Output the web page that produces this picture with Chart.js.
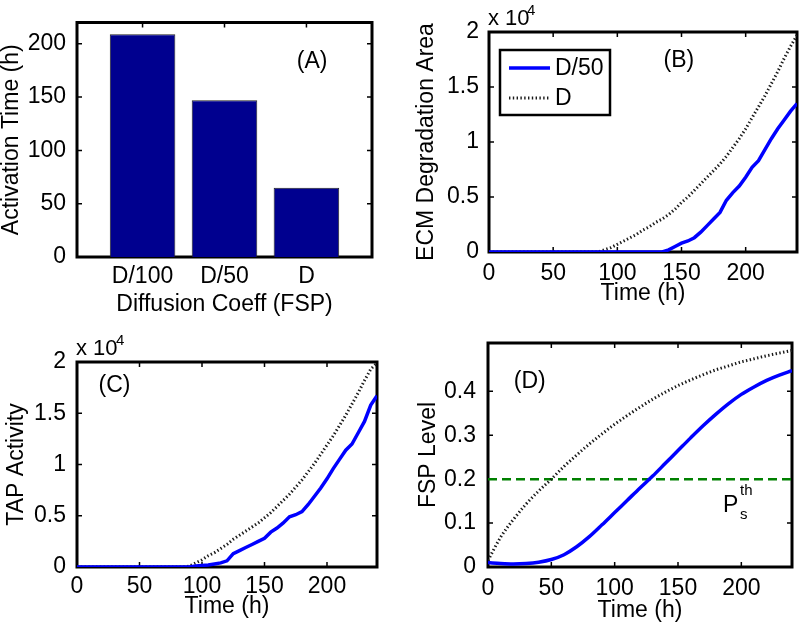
<!DOCTYPE html>
<html>
<head>
<meta charset="utf-8">
<script src="https://cdn.jsdelivr.net/npm/chart.js@4.4.0/dist/chart.umd.min.js"></script>
<style>
    body { margin: 0; background: #fff; }
    #wrap { position: relative; width: 800px; height: 622px; }
    #wrap canvas { position: absolute; left: 0; top: 0; }
</style>
</head>
<body>
<div id="wrap">
    <canvas id="panelA" width="800" height="622"></canvas>
    <canvas id="panelB" width="800" height="622"></canvas>
    <canvas id="panelC" width="800" height="622"></canvas>
    <canvas id="panelD" width="800" height="622"></canvas>
</div>
<script>
// --- DATOS ---
const coeffLabels = ['D/100', 'D/50', 'D'];
const activationHours = [209, 147, 65];
const activationTicks = [0, 50, 100, 150, 200];

const timeTicks = [0, 50, 100, 150, 200];
const areaTicks = [0, 5000, 10000, 15000, 20000];
const fspTicks = [0, 0.1, 0.2, 0.3, 0.4];

// time grid (h) for panels B and C
const timeFine = [0, 5, 10, 15, 20, 25, 30, 35, 40, 45, 50, 55, 60, 65, 70, 75, 80, 85, 90, 95,
    100, 105, 110, 115, 120, 125, 130, 135, 140, 145, 150, 155, 160, 165, 170, 175, 180, 185, 190, 195,
    200, 205, 210, 215, 220, 225, 230, 235, 240];

// (B) ECM degradation area
const ecmD50 = [0, 0, 0, 0, 0, 0, 0, 0, 0, 0, 0, 0, 0, 0, 0, 0, 0, 0, 0, 0,
    0, 0, 0, 0, 0, 0, 0, 0, 200, 500, 800, 1000, 1300, 1800, 2400, 3000, 3600, 4700, 5400, 6000,
    6800, 7700, 8300, 9300, 10300, 11200, 12000, 12800, 13500];
const ecmD = [0, 0, 0, 0, 0, 0, 0, 0, 0, 0, 0, 0, 0, 0, 0, 0, 0, 0, 200, 400,
    700, 1000, 1300, 1600, 2000, 2300, 2700, 3000, 3400, 3900, 4500, 5000, 5600, 6200, 6800, 7400, 8000, 8700, 9500, 10300,
    11200, 12200, 13200, 14200, 15300, 16400, 17600, 18700, 19700];

// (C) TAP activity
const tapD50 = [0, 0, 0, 0, 0, 0, 0, 0, 0, 0, 0, 0, 0, 0, 0, 0, 0, 0, 0, 100,
    150, 200, 300, 400, 600, 1300, 1600, 1900, 2200, 2500, 2800, 3400, 3800, 4300, 4900, 5100, 5400, 6100, 6900, 7700,
    8600, 9600, 10500, 11400, 12000, 13100, 14200, 15800, 16700];
const tapD = [0, 0, 0, 0, 0, 0, 0, 0, 0, 0, 0, 0, 0, 0, 0, 0, 0, 0, 100, 400,
    700, 1100, 1400, 1800, 2200, 2700, 3100, 3500, 3900, 4300, 4800, 5300, 5900, 6500, 7100, 7800, 8500, 9300, 10100, 11000,
    11900, 12800, 13800, 14800, 15900, 17000, 18200, 19300, 19900];

// (D) FSP level
const timeCoarse = [0, 10, 20, 30, 40, 50, 60, 70, 80, 90, 100, 110, 120, 130, 140, 150, 160, 170, 180, 190,
    200, 210, 220, 230, 240];
const fspD50 = [0.010, 0.008, 0.007, 0.008, 0.011, 0.017, 0.028, 0.046, 0.069, 0.096, 0.124, 0.152, 0.180, 0.207, 0.236,
    0.265, 0.294, 0.322, 0.348, 0.372, 0.393, 0.410, 0.425, 0.437, 0.447];
const fspD = [0.015, 0.068, 0.108, 0.143, 0.173, 0.200, 0.229, 0.255, 0.280, 0.303, 0.325, 0.345, 0.364, 0.382, 0.398,
    0.413, 0.426, 0.438, 0.449, 0.458, 0.467, 0.474, 0.481, 0.487, 0.493];
const fspThreshold = 0.2;

// --- ESTILO ---
const PAGE_W = 800, PAGE_H = 622;
const FONT = '"Liberation Sans", Arial, Helvetica, sans-serif';
const FONT_SIZE = 23;
const TICK_LEN = 5;
Chart.defaults.font.family = FONT;
Chart.defaults.font.size = FONT_SIZE;
Chart.defaults.color = '#000';

const blueLine = { borderColor: '#0000ff', borderWidth: 3.5, pointRadius: 0, tension: 0, fill: false };
const dottedLine = { borderColor: '#1a1a1a', borderWidth: 3, borderDash: [1.4, 2.4], borderCapStyle: 'butt', pointRadius: 0, tension: 0, fill: false };

function toPoints(xs, ys) {
    return xs.map((x, i) => ({ x: x, y: ys[i] }));
}

// caja negra y marcas hacia dentro, estilo MATLAB
const framePlugin = {
    id: 'frame',
    beforeDatasetsDraw(chart) {
        const { ctx, chartArea: a, scales: { x, y } } = chart;
        ctx.save();
        ctx.strokeStyle = '#000';
        ctx.lineWidth = 1.5;
        ctx.beginPath();
        x.ticks.forEach(t => {
            const px = x.getPixelForValue(t.value);
            ctx.moveTo(px, a.bottom); ctx.lineTo(px, a.bottom - TICK_LEN);
            ctx.moveTo(px, a.top); ctx.lineTo(px, a.top + TICK_LEN);
        });
        y.ticks.forEach(t => {
            const py = y.getPixelForValue(t.value);
            ctx.moveTo(a.left, py); ctx.lineTo(a.left + TICK_LEN, py);
            ctx.moveTo(a.right, py); ctx.lineTo(a.right - TICK_LEN, py);
        });
        ctx.stroke();
        ctx.lineWidth = 3;
        ctx.strokeRect(a.left, a.top, a.right - a.left, a.bottom - a.top);
        ctx.restore();
    }
};

function textPlugin(draw) {
    return {
        id: 'notes',
        afterDraw(chart) {
            const ctx = chart.ctx;
            ctx.save();
            ctx.fillStyle = '#000';
            draw(ctx, chart);
            ctx.restore();
        }
    };
}

function drawTimes10(ctx, a, dx) {
    ctx.textAlign = 'left';
    ctx.textBaseline = 'alphabetic';
    ctx.font = '22px ' + FONT;
    ctx.fillText('x 10', a.left - 1, a.top - 7);
    ctx.font = '15px ' + FONT;
    ctx.fillText('4', a.left + dx, a.top - 17);
}

function panelLabel(ctx, chart, text, xv, yv) {
    const { x, y } = chart.scales;
    ctx.font = FONT_SIZE + 'px ' + FONT;
    ctx.textAlign = 'center';
    ctx.textBaseline = 'middle';
    ctx.fillText(text, x.getPixelForValue(xv), y.getPixelForValue(yv));
}

function panelOptions(box, cfg) {
    return {
        responsive: false,
        animation: false,
        layout: {
            padding: {
                left: cfg.padLeft,
                top: box.top,
                right: PAGE_W - box.right,
                bottom: PAGE_H - box.bottom - cfg.xAxisHeight
            }
        },
        plugins: { legend: { display: false }, tooltip: { enabled: false } },
        scales: {
            x: {
                type: 'linear', min: cfg.xMin, max: cfg.xMax, offset: false,
                grid: { display: false, drawTicks: false, offset: false },
                border: { display: false },
                afterBuildTicks: s => { s.ticks = cfg.xTicks.map(v => ({ value: v })); },
                afterFit: s => { s.height = cfg.xAxisHeight; },
                ticks: {
                    padding: cfg.xTickPad, maxRotation: 0, autoSkip: false,
                    font: { size: FONT_SIZE, lineHeight: 1 }, callback: cfg.xFormat
                },
                title: {
                    display: true, text: cfg.xTitle,
                    font: { size: FONT_SIZE, lineHeight: 1 }, padding: { top: 0, bottom: cfg.xTitlePad }
                }
            },
            y: {
                type: 'linear', min: cfg.yMin, max: cfg.yMax,
                grid: { display: false, drawTicks: false },
                border: { display: false },
                afterBuildTicks: s => { s.ticks = cfg.yTicks.map(v => ({ value: v })); },
                afterFit: s => { s.width = box.left - cfg.padLeft; },
                ticks: {
                    padding: cfg.yTickPad, autoSkip: false,
                    font: { size: FONT_SIZE, lineHeight: 1 }, callback: cfg.yFormat
                },
                title: {
                    display: true, text: cfg.yTitle,
                    font: { size: FONT_SIZE, lineHeight: 1 }, padding: { top: cfg.yTitlePad, bottom: 0 }
                }
            }
        }
    };
}

// --- (A) tiempo de activación ---
new Chart(document.getElementById('panelA'), {
    type: 'bar',
    data: {
        datasets: [{
            data: coeffLabels.map((c, i) => ({ x: i + 1, y: activationHours[i] })),
            backgroundColor: '#00008f',
            borderColor: '#222',
            borderWidth: 1,
            barPercentage: 0.8,
            categoryPercentage: 1.0
        }]
    },
    options: panelOptions({ left: 77, right: 372, top: 17, bottom: 257 }, {
        padLeft: 0, xAxisHeight: 60,
        xMin: 0.2, xMax: 3.8, xTicks: [1, 2, 3], xFormat: v => coeffLabels[Math.round(v) - 1],
        yMin: 0, yMax: 220, yTicks: activationTicks, yFormat: v => String(v),
        xTitle: 'Diffusion Coeff (FSP)', yTitle: 'Activation Time (h)',
        xTickPad: 8, yTickPad: 11, xTitlePad: 1, yTitlePad: 0
    }),
    plugins: [framePlugin, textPlugin((ctx, chart) => panelLabel(ctx, chart, '(A)', 3.07, 183))]
});

// --- (B) área de degradación ECM ---
new Chart(document.getElementById('panelB'), {
    type: 'line',
    data: {
        datasets: [
            Object.assign({ label: 'D/50', data: toPoints(timeFine, ecmD50) }, blueLine),
            Object.assign({ label: 'D', data: toPoints(timeFine, ecmD) }, dottedLine)
        ]
    },
    options: panelOptions({ left: 489, right: 797, top: 32, bottom: 252 }, {
        padLeft: 400, xAxisHeight: 55,
        xMin: 0, xMax: 240, xTicks: timeTicks, xFormat: v => String(v),
        yMin: 0, yMax: 20000, yTicks: areaTicks, yFormat: v => String(v / 1e4),
        xTitle: 'Time (h)', yTitle: 'ECM Degradation Area',
        xTickPad: 10, yTickPad: 10, xTitlePad: 2, yTitlePad: 15
    }),
    plugins: [framePlugin, textPlugin((ctx, chart) => {
        const a = chart.chartArea;
        drawTimes10(ctx, a, 38);
        panelLabel(ctx, chart, '(B)', 148, 17400);
        // leyenda
        const lx = a.left + 11, ly = a.top + 18;
        ctx.fillStyle = '#fff';
        ctx.fillRect(lx, ly, 110, 65);
        ctx.strokeStyle = '#000';
        ctx.lineWidth = 2.5;
        ctx.strokeRect(lx, ly, 110, 65);
        chart.data.datasets.forEach((ds, i) => {
            const yy = ly + 18 + i * 30;
            ctx.save();
            ctx.strokeStyle = ds.borderColor;
            ctx.lineWidth = ds.borderWidth;
            ctx.lineCap = 'butt';
            ctx.setLineDash(ds.borderDash || []);
            ctx.beginPath();
            ctx.moveTo(lx + 9, yy);
            ctx.lineTo(lx + 50, yy);
            ctx.stroke();
            ctx.restore();
            ctx.fillStyle = '#000';
            ctx.font = FONT_SIZE + 'px ' + FONT;
            ctx.textAlign = 'left';
            ctx.textBaseline = 'middle';
            ctx.fillText(ds.label, lx + 55, yy + 1);
        });
    })]
});

// --- (C) actividad TAP ---
new Chart(document.getElementById('panelC'), {
    type: 'line',
    data: {
        datasets: [
            Object.assign({ label: 'D/50', data: toPoints(timeFine, tapD50) }, blueLine),
            Object.assign({ label: 'D', data: toPoints(timeFine, tapD) }, dottedLine)
        ]
    },
    options: panelOptions({ left: 77, right: 377, top: 362, bottom: 567 }, {
        padLeft: 0, xAxisHeight: 55,
        xMin: 0, xMax: 240, xTicks: timeTicks, xFormat: v => String(v),
        yMin: 0, yMax: 20000, yTicks: areaTicks, yFormat: v => String(v / 1e4),
        xTitle: 'Time (h)', yTitle: 'TAP Activity',
        xTickPad: 8, yTickPad: 11, xTitlePad: 4, yTitlePad: 5
    }),
    plugins: [framePlugin, textPlugin((ctx, chart) => {
        drawTimes10(ctx, chart.chartArea, 39);
        panelLabel(ctx, chart, '(C)', 30, 17700);
    })]
});

// --- (D) nivel de FSP ---
new Chart(document.getElementById('panelD'), {
    type: 'line',
    data: {
        datasets: [
            Object.assign({ label: 'D/50', data: toPoints(timeCoarse, fspD50), cubicInterpolationMode: 'monotone' }, blueLine),
            Object.assign({ label: 'D', data: toPoints(timeCoarse, fspD), cubicInterpolationMode: 'monotone' }, dottedLine),
            {
                label: 'threshold',
                data: [{ x: 0, y: fspThreshold }, { x: 240, y: fspThreshold }],
                borderColor: '#008000', borderWidth: 2.5, borderDash: [9, 5],
                pointRadius: 0, fill: false
            }
        ]
    },
    options: panelOptions({ left: 488, right: 792, top: 343, bottom: 567 }, {
        padLeft: 400, xAxisHeight: 55,
        xMin: 0, xMax: 240, xTicks: timeTicks, xFormat: v => String(v),
        yMin: 0, yMax: 0.51, yTicks: fspTicks, yFormat: v => String(v),
        xTitle: 'Time (h)', yTitle: 'FSP Level',
        xTickPad: 10, yTickPad: 12, xTitlePad: 0, yTitlePad: 17
    }),
    plugins: [framePlugin, textPlugin((ctx, chart) => {
        const { x, y } = chart.scales;
        panelLabel(ctx, chart, '(D)', 33, 0.423);
        // P_s^th
        const px = x.getPixelForValue(185.5), py = y.getPixelForValue(0.125);
        ctx.textAlign = 'left';
        ctx.textBaseline = 'alphabetic';
        ctx.font = FONT_SIZE + 'px ' + FONT;
        ctx.fillText('P', px, py);
        ctx.font = '15px ' + FONT;
        ctx.fillText('th', px + 17, py - 17);
        ctx.fillText('s', px + 17, py + 7);
    })]
});
</script>
</body>
</html>
